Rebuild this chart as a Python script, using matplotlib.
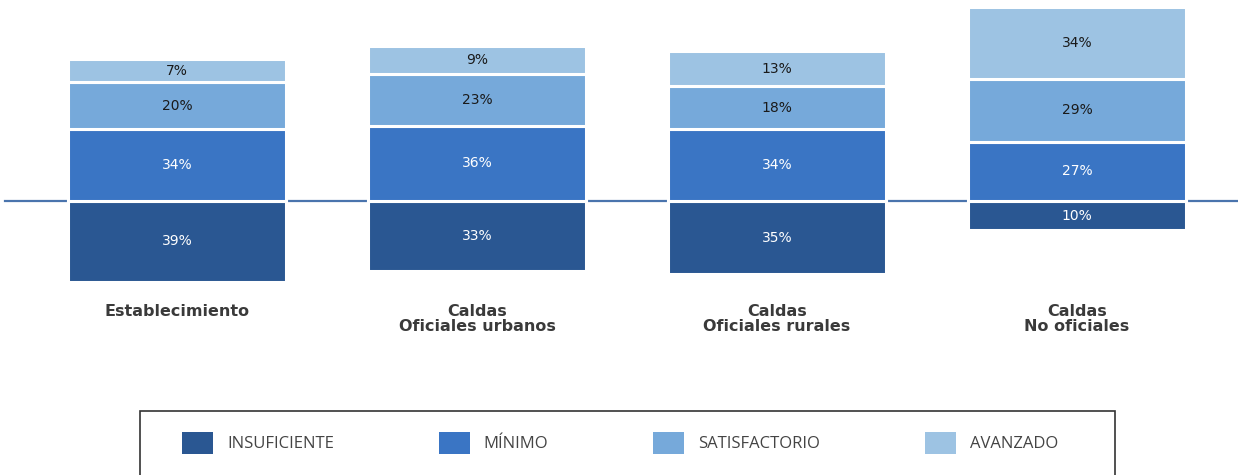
import numpy as np
import matplotlib.pyplot as plt
from matplotlib.patches import Patch, Rectangle

categorias = ['Establecimiento', 'Caldas\nOficiales urbanos', 'Caldas\nOficiales rurales', 'Caldas\nNo oficiales']
niveles = ['INSUFICIENTE', 'MÍNIMO', 'SATISFACTORIO', 'AVANZADO']
insuficiente = [39, 33, 35, 10]
minimo = [34, 36, 34, 27]
satisfactorio = [20, 23, 18, 29]
avanzado = [7, 9, 13, 34]

colores = ['#2a5792', '#3a75c4', '#76a9da', '#9dc3e3']
col_texto = ['white', 'white', '#1a1a1a', '#1a1a1a']
relleno = 6.5  # espacio fijo extra por segmento (como en el original)

W, H = 1238, 475
fig = plt.figure(figsize=(W / 100, H / 100), dpi=100)
ax = fig.add_axes([0, 0, 1, 1])
ax.set_xlim(-0.59, 3.537)
ax.set_ylim(-154.8, 113.6)
ax.axis('off')

x = np.arange(len(categorias))
ancho = 0.727

# linea base
ax.axhline(0, xmin=0.004, color='#4a74ad', lw=1.6, zorder=1)

# insuficiente hacia abajo
alto = np.array(insuficiente) + relleno
ax.bar(x, -alto, ancho, color=colores[0], edgecolor='white', linewidth=2.2, zorder=2)
for xi, h, v in zip(x, alto, insuficiente):
    ax.text(xi, -h / 2, f'{v}%', ha='center', va='center', color=col_texto[0], fontsize=10)

# el resto hacia arriba
base = np.zeros(len(x))
for i, serie in enumerate([minimo, satisfactorio, avanzado], start=1):
    alto = np.array(serie) + relleno
    ax.bar(x, alto, ancho, bottom=base, color=colores[i],
           edgecolor='white', linewidth=2.2, zorder=2)
    for xi, b, h, v in zip(x, base, alto, serie):
        ax.text(xi, b + h / 2, f'{v}%', ha='center', va='center', color=col_texto[i], fontsize=10)
    base = base + alto

for xi, c in zip(x, categorias):
    ax.text(xi, -58, c, ha='center', va='top', fontsize=11.5, fontweight='bold',
            color='#3a3a3a', linespacing=1.0)

handles = [Patch(facecolor=c, edgecolor='none') for c in colores]
fig.legend(handles, niveles, loc='center', bbox_to_anchor=(0.501, 1 - 443 / H),
           ncol=4, frameon=False, prop={'family': 'Open Sans', 'size': 12}, labelcolor='#444444',
           handlelength=1.86, handleheight=1.6, handletextpad=0.84, columnspacing=6.3)

fig.patches.append(Rectangle((140 / W, -0.02), 975 / W, (H - 411) / H + 0.02,
                             transform=fig.transFigure, fill=False,
                             edgecolor='#333333', lw=1.2))

fig.savefig('out.png', dpi=100)
